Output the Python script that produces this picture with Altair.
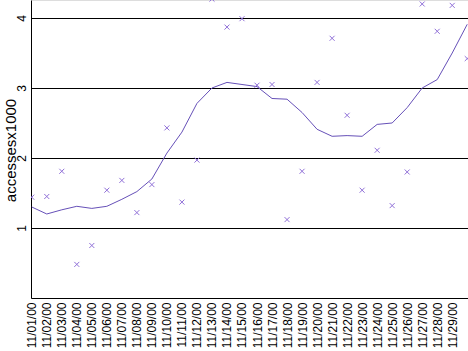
import altair as alt
import pandas as pd

dates = [f"11/{d:02d}/00" for d in range(1, 31)]
accesses = [1.44, 1.45, 1.81, 0.48, 0.75, 1.54, 1.68, 1.22, 1.62, 2.43,
            1.37, 1.97, 4.27, 3.87, 3.99, 3.04, 3.05, 1.12, 1.81, 3.08,
            3.71, 2.61, 1.54, 2.11, 1.32, 1.80, 4.20, 3.81, 4.18, 3.42]
trend = [1.30, 1.20, 1.26, 1.31, 1.28, 1.31, 1.41, 1.52, 1.70, 2.07,
         2.37, 2.78, 3.00, 3.08, 3.05, 3.02, 2.85, 2.84, 2.65, 2.41,
         2.31, 2.32, 2.31, 2.48, 2.50, 2.72, 3.00, 3.12, 3.50, 3.91]
tick_dates = dates[:29]

df = pd.DataFrame({"date": dates, "accesses": accesses, "trend": trend})

font = "Liberation Sans"
x = alt.X("date:O", sort=dates, title=None,
          scale=alt.Scale(type="point", padding=0.05),
          axis=alt.Axis(values=tick_dates, labelAngle=270, labelAlign="right",
                        labelBaseline="middle", ticks=False, labelPadding=4,
                        domainColor="black", labelColor="black",
                        labelFont=font, labelFontSize=12, grid=False))
yscale = alt.Scale(domain=[0, 4.257], nice=False, zero=True)
yaxis = alt.Axis(values=[1, 2, 3, 4], ticks=False, labelAngle=270,
                 labelAlign="center", labelBaseline="bottom", labelPadding=3,
                 labelFont=font, labelFontSize=12, labelColor="black",
                 domainColor="black", grid=True, gridColor="black",
                 gridOpacity=1, gridWidth=1.2, title="accessesx1000",
                 titleFont=font, titleFontSize=15, titleFontWeight="normal",
                 titleColor="black", titleAngle=270, titleX=-21, titleY=150,
                 titleAlign="center", titleBaseline="middle")

pts = alt.Chart(df).mark_point(
    shape="M-1,-1L1,1M-1,1L1,-1", size=25, strokeWidth=1,
    color="#9070d8", filled=False, clip=True, opacity=1
).encode(x=x, y=alt.Y("accesses:Q", scale=yscale, axis=yaxis))

line = alt.Chart(df).mark_line(color="#6650b8", strokeWidth=1, clip=True).encode(
    x=x, y=alt.Y("trend:Q", scale=yscale, axis=yaxis))

chart = alt.layer(line, pts).properties(
    width=437, height=298,
    autosize=alt.AutoSizeParams(type="none"),
    padding={"left": 31, "top": 0, "right": 0, "bottom": 53},
).configure_view(stroke=None).configure(background="white")

chart.save("out.html", embed_options={"renderer": "svg", "actions": False})
